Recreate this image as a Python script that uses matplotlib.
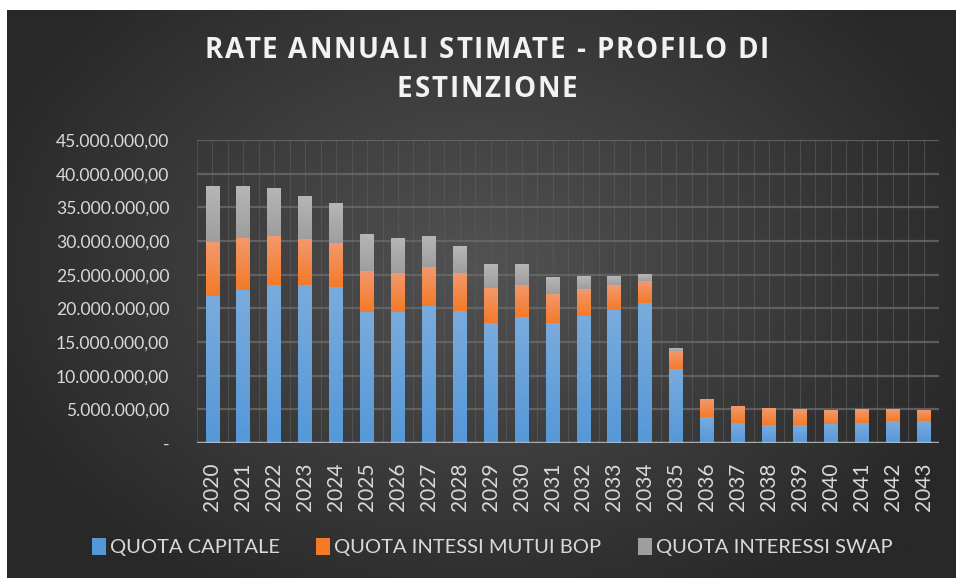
import numpy as np
import matplotlib
matplotlib.use("Agg")
import matplotlib.pyplot as plt
from matplotlib.ticker import FuncFormatter, MultipleLocator
from matplotlib.patches import Rectangle

plt.rcParams['font.family'] = ['Lato', 'DejaVu Sans']

anni = [str(a) for a in range(2020, 2044)]
# valori in milioni di euro
quota_capitale = [21.8, 22.65, 23.5, 23.4, 23.1, 19.4, 19.4, 20.3, 19.6, 17.8, 18.65, 17.75,
                  18.8, 19.8, 20.8, 11.0, 3.9, 2.95, 2.6, 2.6, 2.85, 2.95, 3.2, 3.3]
quota_bop = [8.0, 7.75, 7.2, 6.9, 6.6, 6.2, 5.9, 5.8, 5.6, 5.15, 4.8, 4.45,
             4.0, 3.6, 3.2, 2.6, 2.6, 2.5, 2.4, 2.3, 2.05, 1.95, 1.7, 1.6]
quota_swap = [8.2, 7.6, 7.1, 6.3, 5.9, 5.4, 5.1, 4.5, 4.0, 3.55, 3.05, 2.5,
              1.9, 1.3, 0.9, 0.3, 0, 0, 0, 0, 0, 0, 0, 0]
serie = ["QUOTA CAPITALE", "QUOTA INTESSI MUTUI BOP", "QUOTA INTERESSI SWAP"]
titolo = ["RATE ANNUALI STIMATE - PROFILO DI", "ESTINZIONE"]

# colori (alto, basso) per il gradiente delle barre
colori = [("#7aabdd", "#5598d8"), ("#f2996e", "#f47a28"), ("#b6b6b6", "#9e9e9e")]
testo = "#d9d9d9"

fig = plt.figure(figsize=(9.56, 5.78), dpi=100)
fig.patch.set_facecolor("white")

# sfondo scuro con gradiente radiale
bg = fig.add_axes([7 / 956, 0, 1 - 7 / 956, 1 - 10 / 578])
bg.set_axis_off()
yy, xx = np.mgrid[0:1:300j, 0:1:500j]
d = np.sqrt(((xx - 0.5) / 0.75) ** 2 + ((yy - 0.55) / 0.9) ** 2)
d = np.clip(d / 0.75, 0, 1)
c0, c1 = 0x52, 0x28
img = (c0 + (c1 - c0) * d) / 255.0
bg.imshow(np.dstack([img, img, img]), extent=(0, 1, 0, 1), aspect="auto", origin="lower")
bg.set_xlim(0, 1)
bg.set_ylim(0, 1)

ax = fig.add_axes([197 / 956, 1 - 443 / 578, 742 / 956, 303 / 578])
ax.set_facecolor("none")
x = np.arange(len(anni))
larghezza = 0.45

bottom = np.zeros(len(anni))
for vals, (ctop, cbot) in zip([quota_capitale, quota_bop, quota_swap], colori):
    vals = np.array(vals) * 1e6
    grad = np.linspace(0, 1, 64).reshape(-1, 1)
    ct = np.array(matplotlib.colors.to_rgb(ctop))
    cb = np.array(matplotlib.colors.to_rgb(cbot))
    g = cb + (ct - cb) * grad
    g = g.reshape(64, 1, 3)
    for i in range(len(anni)):
        if vals[i] <= 0:
            continue
        ax.imshow(g, extent=(x[i] - larghezza / 2, x[i] + larghezza / 2, bottom[i], bottom[i] + vals[i]),
                  origin="lower", aspect="auto", zorder=3)
    bottom += vals

ax.set_xlim(-0.5, len(anni) - 0.5)
ax.set_ylim(0, 45e6)
ax.set_aspect("auto")

ax.yaxis.set_major_locator(MultipleLocator(5e6))
def fmt(v, pos):
    if v == 0:
        return "-"
    return f"{v:,.2f}".replace(",", "X").replace(".", ",").replace("X", ".")
ax.yaxis.set_major_formatter(FuncFormatter(fmt))
ax.set_xticks(x)
ax.set_xticklabels(anni, rotation=90)
ax.set_xticks(np.arange(-0.5, len(anni), 1), minor=True)

ax.grid(axis="y", color="#6a6a6a", linewidth=1.6, alpha=0.8, zorder=1)
ax.grid(axis="x", which="both", color="#5e5e5e", linewidth=0.8, alpha=0.6, zorder=1)
ax.tick_params(axis="y", length=0, pad=20, labelsize=12.6, labelcolor=testo)
ax.tick_params(axis="x", which="both", length=0, pad=14, labelsize=15, labelcolor=testo)
for s in ax.spines.values():
    s.set_visible(False)
ax.axhline(0, color="#c8c8c8", linewidth=2.5, alpha=0.7, zorder=4)

# titolo con spaziatura tra le lettere
renderer = fig.canvas.get_renderer()
tstyle = dict(fontsize=20, fontweight="bold", color="#f2f2f2", family=["Open Sans", "DejaVu Sans"])
def larghezza_testo(s):
    t = fig.text(0, 0, s, **tstyle)
    w = t.get_window_extent(renderer).width
    t.remove()
    return w
spazio = 1.8
for riga, yc in zip(titolo, [51, 90]):
    tot = larghezza_testo(riga) + spazio * (len(riga) - 1)
    x0 = 487 - tot / 2
    for i, ch in enumerate(riga):
        if ch == " ":
            continue
        pos = larghezza_testo(riga[:i + 1]) - larghezza_testo(ch) + spazio * i
        fig.text((x0 + pos) / 956, 1 - yc / 578, ch, ha="left", va="center", **tstyle)

# legenda
handles = [Rectangle((0, 0), 1, 1, facecolor=c[1]) for c in colori]
leg = fig.legend(handles, serie, loc="center", bbox_to_anchor=(492 / 956, 1 - 547 / 578), ncol=3,
                 frameon=False, fontsize=14.5, labelcolor=testo, handlelength=0.7, handleheight=0.9,
                 handletextpad=0.2, columnspacing=1.8)

fig.savefig("out.png", dpi=100)
